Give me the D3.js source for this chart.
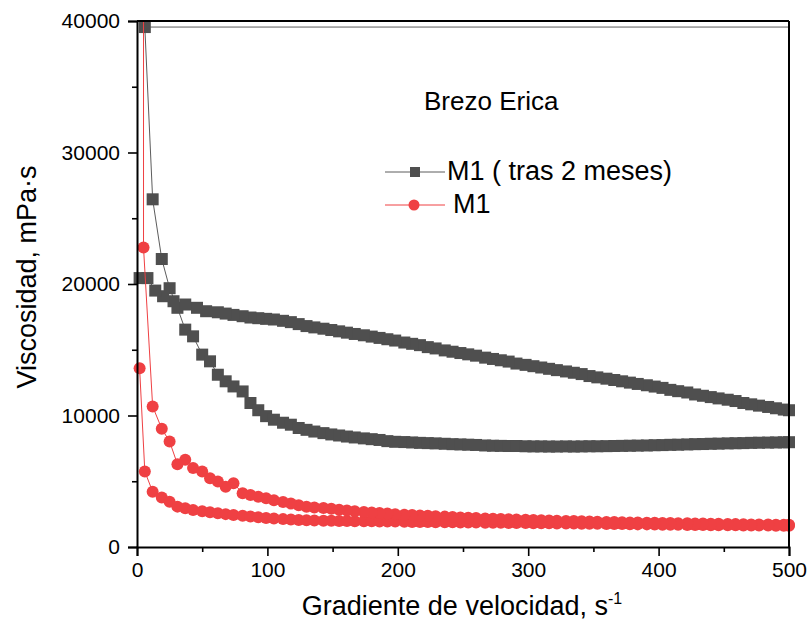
<!DOCTYPE html>
<html>
<head>
<meta charset="utf-8">
<script src="https://cdn.jsdelivr.net/npm/d3@7"></script>
<style>
  html, body { margin: 0; padding: 0; background: #fff; }
  svg { display: block; font-family: "Liberation Sans", Arial, sans-serif; }
</style>
</head>
<body>
<svg id="chart" width="809" height="635"></svg>
<script>
// Shear-rate grid (s^-1) shared by most branches
const shearRate = [6,12,19,25,31,37,43,50,56,62,
  68,74,81,87,93,99,105,112,118,124,
  130,136,143,149,155,161,167,174,180,186,
  192,198,205,211,217,223,229,236,242,248,
  254,260,267,273,279,285,291,298,304,310,
  316,322,329,335,341,347,353,360,366,372,
  378,384,391,397,403,409,415,422,428,434,
  440,446,453,459,465,471,477,484,490,496,500];

// M1 (tras 2 meses): steep branch, preceded by an off-range point at the same level
const grayRiseRate = [520].concat(shearRate);
const grayRiseVisc = [39540,
  39540,26440,21900,19680,18190,16530,16020,14630,14120,13100,
  12600,12210,11830,10950,10400,9950,9680,9450,9300,9050,
  8910,8780,8660,8560,8480,8400,8330,8260,8200,8140,
  8050,8000,7980,7950,7920,7900,7880,7850,7820,7800,
  7780,7760,7720,7700,7690,7680,7680,7660,7650,7650,
  7640,7640,7650,7640,7650,7660,7660,7670,7680,7690,
  7700,7710,7720,7740,7750,7770,7780,7800,7820,7830,
  7850,7860,7880,7890,7900,7920,7930,7940,7950,7960,7970];

// M1 (tras 2 meses): upper branch (drawn from 500 back to 0)
const grayUpperRate = [2,8,14,20,28,37,46,53].concat(shearRate.slice(9));
const grayUpperVisc = [20450,20450,19500,19070,18690,18440,18190,17930,
  17850,17750,17650,17550,17450,17400,17350,17300,17200,17100,
  16950,16800,16700,16600,16500,16400,16300,16200,16100,16000,
  15900,15800,15700,15550,15450,15350,15200,15100,14950,14850,
  14750,14650,14550,14400,14300,14200,14100,13950,13850,13750,
  13650,13550,13450,13350,13250,13150,13000,12900,12800,12700,
  12600,12500,12400,12300,12200,12100,11950,11850,11750,11600,
  11500,11400,11300,11200,11100,10950,10850,10750,10650,10550,
  10450,10400];

// M1: lower branch
const redLowerRate = [2].concat(shearRate);
const redLowerVisc = [13600,
  5740,4210,3760,3450,3070,2950,2820,2720,2640,2560,
  2500,2440,2380,2320,2270,2200,2160,2120,2090,2060,
  2040,2020,2000,1990,1980,1970,1960,1950,1950,1940,
  1930,1930,1920,1910,1900,1900,1890,1880,1880,1870,
  1860,1860,1850,1840,1840,1830,1820,1820,1810,1800,
  1800,1790,1780,1780,1770,1760,1760,1750,1740,1740,
  1730,1720,1720,1710,1700,1700,1690,1680,1680,1670,
  1660,1660,1650,1650,1640,1640,1630,1630,1620,1620,1610];

// M1: upper branch (drawn from 500 back to 0, last point runs off the top)
const redUpperRate = [5,5].concat(shearRate.slice(1));
const redUpperVisc = [48000,22780,
  10690,8990,8020,6300,6630,6000,5740,5230,4980,
  4590,4850,4090,3960,3820,3700,3560,3430,3300,3170,
  3060,3000,2960,2900,2840,2780,2720,2670,2620,2580,
  2540,2500,2460,2430,2400,2370,2340,2310,2280,2250,
  2220,2200,2170,2150,2130,2110,2090,2070,2050,2030,
  2010,2000,1980,1970,1950,1940,1920,1910,1900,1880,
  1870,1860,1850,1840,1830,1820,1810,1800,1790,1780,
  1770,1760,1750,1740,1730,1720,1710,1710,1700,1690,1690];

const xTicks = [0,100,200,300,400,500];
const yTicks = [0,10000,20000,30000,40000];
const seriesNames = ["M1 ( tras 2 meses)", "M1"];
const chartTitle = "Brezo Erica";

const GRAY = "#4f4f4f", GRAY_LINE = "#5c5c5c", RED = "#ef4043";

const zip = (xs, ys) => xs.map((x, i) => ({x, y: ys[i]}));
const graySeq = zip(grayRiseRate, grayRiseVisc)
  .concat(zip(grayUpperRate, grayUpperVisc).reverse());
const redSeq = zip(redLowerRate, redLowerVisc)
  .concat(zip(redUpperRate, redUpperVisc).reverse());

const svg = d3.select("#chart");
const L = 137, R = 789, T = 21, B = 547;
const x = d3.scaleLinear().domain([0, 500]).range([L, R]);
const y = d3.scaleLinear().domain([0, 40000]).range([B, T]);

svg.append("defs").append("clipPath").attr("id", "plotClip")
  .append("rect").attr("x", L).attr("y", T).attr("width", R - L).attr("height", B - T);

const inRange = d => d.x >= 0 && d.x <= 500 && d.y >= 0 && d.y <= 40000;
const line = d3.line().x(d => x(d.x)).y(d => y(d.y));

// gray series
svg.append("path").datum(graySeq).attr("clip-path", "url(#plotClip)")
  .attr("d", line).attr("fill", "none").attr("stroke", GRAY_LINE).attr("stroke-width", 1);
const sq = 12;
svg.append("g").selectAll("rect").data(graySeq.filter(inRange)).join("rect")
  .attr("x", d => x(d.x) - sq / 2).attr("y", d => y(d.y) - sq / 2)
  .attr("width", sq).attr("height", sq).attr("fill", GRAY);

// red series
svg.append("path").datum(redSeq).attr("clip-path", "url(#plotClip)")
  .attr("d", line).attr("fill", "none").attr("stroke", RED).attr("stroke-width", 1);
svg.append("g").selectAll("circle").data(redSeq.filter(inRange)).join("circle")
  .attr("cx", d => x(d.x)).attr("cy", d => y(d.y)).attr("r", 6).attr("fill", RED);

// frame
svg.append("line").attr("x1", L).attr("x2", R).attr("y1", T).attr("y2", T)
  .attr("stroke", "#000").attr("stroke-width", 2);
svg.append("line").attr("x1", R).attr("x2", R).attr("y1", T).attr("y2", B)
  .attr("stroke", "#000").attr("stroke-width", 2);

// axes
const xAxis = svg.append("g").attr("transform", `translate(0,${B})`)
  .call(d3.axisBottom(x).tickValues(d3.range(0, 501, 50)).tickSize(9)
    .tickFormat(d => xTicks.includes(d) ? d : ""));
const yAxis = svg.append("g").attr("transform", `translate(${L},0)`)
  .call(d3.axisLeft(y).tickValues(d3.range(0, 40001, 5000)).tickSize(9)
    .tickFormat(d => yTicks.includes(d) ? d : ""));
[xAxis, yAxis].forEach(g => {
  g.select(".domain").attr("stroke", "#000").attr("stroke-width", 2);
  g.selectAll(".tick line").attr("stroke", "#000").attr("stroke-width", 1.6);
  g.selectAll(".tick text").attr("fill", "#000").attr("font-size", 21)
    .attr("font-family", "'Liberation Sans', Arial, sans-serif");
});
xAxis.selectAll(".tick").filter(d => !xTicks.includes(d)).select("line").attr("y2", 5);
yAxis.selectAll(".tick").filter(d => !yTicks.includes(d)).select("line").attr("x2", -5);
xAxis.selectAll(".tick text").attr("y", 15);
yAxis.selectAll(".tick text").attr("x", -17);

// axis titles
const xt = svg.append("text").attr("x", 462).attr("y", 615).attr("text-anchor", "middle")
  .attr("font-size", 27).attr("fill", "#000");
xt.append("tspan").text("Gradiente de velocidad, s");
xt.append("tspan").attr("font-size", 16).attr("dy", -11).text("-1");

svg.append("text").attr("transform", "translate(36,277) rotate(-90)")
  .attr("text-anchor", "middle").attr("font-size", 27).attr("fill", "#000")
  .text("Viscosidad, mPa·s");

// title
svg.append("text").attr("x", 424).attr("y", 110).attr("font-size", 26).attr("fill", "#000")
  .text(chartTitle);

// legend
const leg = svg.append("g");
leg.append("line").attr("x1", 385).attr("x2", 445).attr("y1", 172).attr("y2", 172)
  .attr("stroke", GRAY_LINE).attr("stroke-width", 1);
leg.append("rect").attr("x", 415 - 5).attr("y", 172 - 5).attr("width", 10).attr("height", 10)
  .attr("fill", GRAY);
leg.append("text").attr("x", 447).attr("y", 180).attr("font-size", 27).attr("fill", "#000")
  .text(seriesNames[0]);
leg.append("line").attr("x1", 385).attr("x2", 445).attr("y1", 205).attr("y2", 205)
  .attr("stroke", RED).attr("stroke-width", 1);
leg.append("circle").attr("cx", 414).attr("cy", 205).attr("r", 5.5).attr("fill", RED);
leg.append("text").attr("x", 453).attr("y", 213).attr("font-size", 27).attr("fill", "#000")
  .text(seriesNames[1]);
</script>
</body>
</html>
